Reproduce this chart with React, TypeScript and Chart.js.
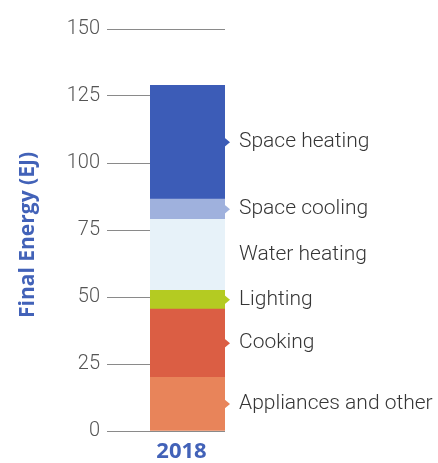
import React, { useEffect, useRef } from "react";
import { Chart, registerables } from "chart.js";

Chart.register(...registerables);

const categories = ["2018"];
const seriesNames = ["Appliances and other", "Cooking", "Lighting", "Water heating", "Space cooling", "Space heating"];
const seriesValues = [20, 25.5, 7, 26.5, 7.5, 42.5];
const seriesColors = ["#e8845a", "#db5e44", "#b4cb22", "#e7f2f9", "#9fb1dd", "#3c5cb7"];
const arrowVisible = [true, true, true, false, true, true];
const yTicks = [0, 25, 50, 75, 100, 125, 150];

const labelPlugin = {
  id: "sideLabels",
  afterDatasetsDraw(chart: any) {
    const ctx = chart.ctx;
    ctx.save();
    chart.data.datasets.forEach((ds: any, i: number) => {
      const meta = chart.getDatasetMeta(i);
      const bar = meta.data[0];
      if (!bar) return;
      const right = bar.x + bar.width / 2;
      const yMid = (bar.y + bar.base) / 2;
      if (arrowVisible[i]) {
        ctx.fillStyle = seriesColors[i];
        ctx.beginPath();
        ctx.moveTo(right - 1, yMid - 5);
        ctx.lineTo(right + 5, yMid);
        ctx.lineTo(right - 1, yMid + 5);
        ctx.closePath();
        ctx.fill();
      }
      ctx.fillStyle = "#363636";
      ctx.font = "300 21px Roboto";
      ctx.textAlign = "left";
      ctx.textBaseline = "middle";
      ctx.fillText(ds.label, right + 14, yMid);
    });
    // y axis title
    ctx.save();
    ctx.translate(28, 235);
    ctx.rotate(-Math.PI / 2);
    ctx.fillStyle = "#4262b8";
    ctx.font = "bold 21px 'Open Sans'";
    ctx.textAlign = "center";
    ctx.textBaseline = "middle";
    ctx.fillText("Final Energy (EJ)", 0, 0);
    ctx.restore();
    // category label
    const xs = chart.scales.x;
    ctx.fillStyle = "#4262b8";
    ctx.font = "bold 22px 'Open Sans'";
    ctx.textAlign = "center";
    ctx.textBaseline = "middle";
    ctx.fillText(categories[0], xs.getPixelForValue(0) - 6, 452);
    ctx.restore();
  },
};

export default function App() {
  const ref = useRef<HTMLCanvasElement | null>(null);
  useEffect(() => {
    if (!ref.current) return;
    const chart = new Chart(ref.current, {
      type: "bar",
      data: {
        labels: categories,
        datasets: seriesNames.map((n, i) => ({
          label: n,
          data: [seriesValues[i]],
          backgroundColor: seriesColors[i],
          borderWidth: 0,
          barPercentage: 1,
          categoryPercentage: 1,
        })),
      },
      options: {
        animation: false,
        responsive: false,
        maintainAspectRatio: false,
        layout: { padding: { top: 29, right: 213, left: 0, bottom: 0 } },
        plugins: { legend: { display: false }, tooltip: { enabled: false } },
        scales: {
          x: {
            stacked: true,
            grid: { display: false },
            border: { display: false },
            ticks: { display: false },
            afterFit: (axis: any) => {
              axis.height = 32;
            },
          },
          y: {
            stacked: true,
            min: 0,
            max: 150,
            afterBuildTicks: (axis: any) => {
              axis.ticks = yTicks.map((v) => ({ value: v }));
            },
            grid: {
              color: "#8a8a8a",
              lineWidth: 1,
              drawTicks: true,
              tickLength: 43,
            },
            border: { display: false },
            ticks: {
              color: "#555555",
              font: { family: "Roboto", size: 20, weight: "300" },
              padding: 7,
            },
            afterFit: (axis: any) => {
              axis.width = 150;
            },
          },
        },
      },
      plugins: [labelPlugin],
    });
    return () => chart.destroy();
  }, []);
  return (
    <div style={{ position: "absolute", left: 0, top: 0, width: 438, height: 463, background: "#fff" }}>
      <canvas ref={ref} width={438} height={463} style={{ width: 438, height: 463 }} />
    </div>
  );
}
